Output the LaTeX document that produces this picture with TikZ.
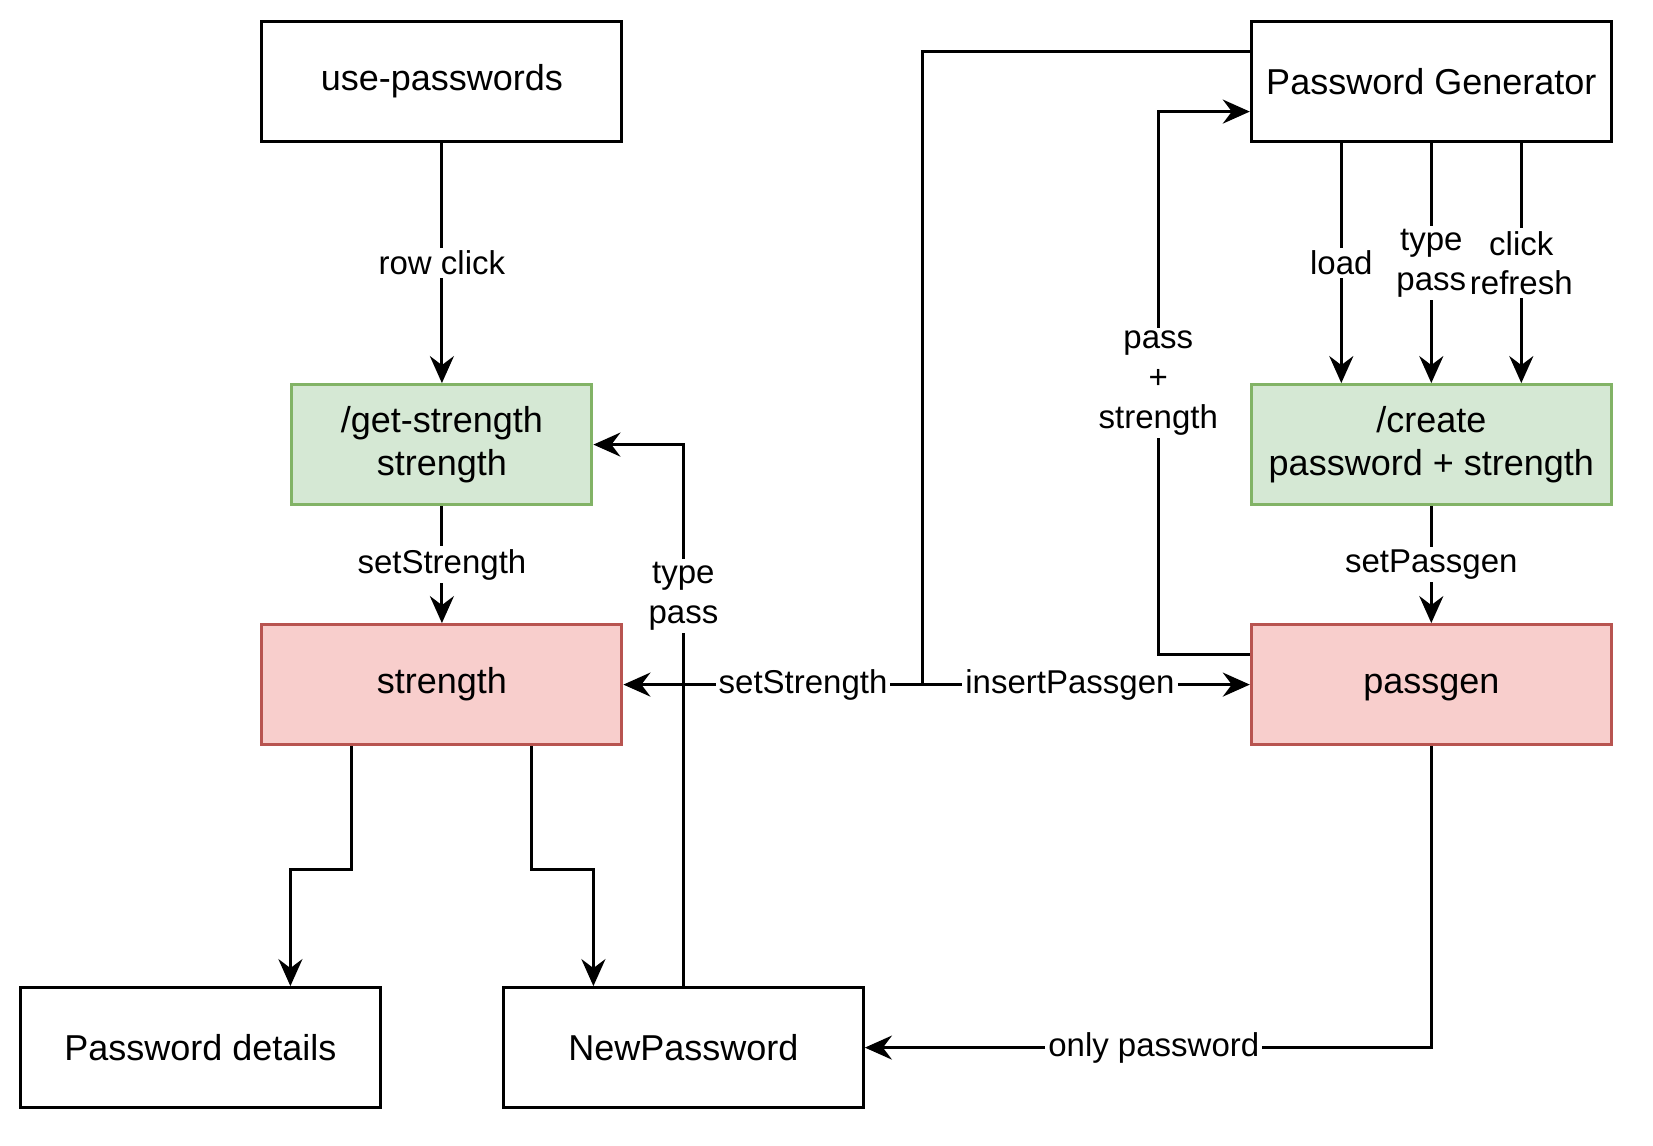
\documentclass[tikz,border=0pt]{standalone}
\usepackage{fontspec}
\setmainfont{Liberation Sans}
\usepackage{xcolor}
\usetikzlibrary{arrows.meta}

\definecolor{apifill}{HTML}{D5E8D4}
\definecolor{apiline}{HTML}{82B366}
\definecolor{statefill}{HTML}{F8CECC}
\definecolor{stateline}{HTML}{B85450}

\begin{document}
\begin{tikzpicture}[x=1pt, y=-1pt, line width=1pt,
        box/.style={draw, minimum width=120pt, minimum height=40pt, inner sep=0pt, align=center, font=\fontsize{12}{14.4}\selectfont},
        apibox/.style={box, draw=apiline, fill=apifill},
        statebox/.style={box, draw=stateline, fill=statefill},
        lbl/.style={fill=white, inner sep=1pt, align=center, font=\fontsize{11}{13.2}\selectfont},
        flow/.style={-{Stealth[length=9pt, width=8pt, inset=3pt]}}]
            \useasboundingbox (0.7,-0.2) rectangle (551.7,381.8);

            \node[box] (usepw) at (148,27) {use-passwords};
            \node[apibox, minimum width=100pt] (getstr) at (148,148) {/get-strength\\strength};
            \node[statebox] (strength) at (148,228) {strength};
            \node[box] (details) at (67.5,349) {Password details};
            \node[box] (newpw) at (228.5,349) {NewPassword};

            \node[box] (pwgen) at (477.8,27) {Password Generator};
            \node[apibox] (create) at (477.8,148) {/create\\password + strength};
            \node[statebox] (passgen) at (477.8,228) {\vphantom{Pg}passgen};
            \coordinate (split) at (308.3,228);

            \draw[flow] (usepw) -- node[lbl] {row click} (getstr);
            \draw[flow] (getstr) -- node[lbl] {setStrength} (strength);
            \draw[flow] ([xshift=-30pt]strength.south) -- ++(0,41) -| ([xshift=30pt]details.north);
            \draw[flow] ([xshift=30pt]strength.south) -- ++(0,41) -| ([xshift=-30pt]newpw.north);
            \draw[flow] (newpw.north) |- node[lbl, pos=0.36] {type\\pass} (getstr.east);

            \draw ([yshift=10pt]pwgen.west) -| (split);
            \draw[flow] (split) -- node[lbl, pos=0.4] {setStrength} (strength.east);
            \draw[flow] (split) -- node[lbl, pos=0.45] {insertPassgen} (passgen.west);
            \draw[flow] ([yshift=10pt]passgen.west) -- ++(-30.5,0) |- node[lbl, pos=0.25] {pass\\+\\strength} ([yshift=-10pt]pwgen.west);

            \foreach \dx/\txt in {-30/load, 0/type\\pass, 30/click\\refresh} {
                \draw[flow] ([xshift=\dx pt]pwgen.south) -- node[lbl] {\txt} ([xshift=\dx pt]create.north);
            }
            \draw[flow] (create) -- node[lbl] {setPassgen} (passgen);
            \draw[flow] (passgen.south) |- node[lbl, pos=0.745] {only password} (newpw.east);
        \end{tikzpicture}
\end{document}
